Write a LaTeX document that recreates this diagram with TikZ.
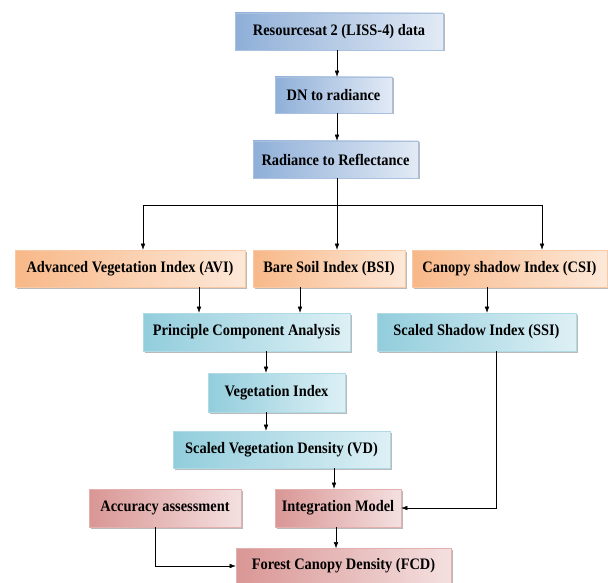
\documentclass[tikz,border=0pt]{standalone}
\usepackage{fontspec}
\setmainfont{Liberation Serif}[FakeStretch=0.9]
\usetikzlibrary{arrows.meta,shadows}

\definecolor{blueD}{HTML}{8FAFD8}
\definecolor{blueL}{HTML}{E2EAF5}
\definecolor{blueB}{HTML}{A9C0DF}
\definecolor{orangeD}{HTML}{F8B888}
\definecolor{orangeL}{HTML}{FDE8D8}
\definecolor{orangeB}{HTML}{F9C9A5}
\definecolor{cyanD}{HTML}{92CDDC}
\definecolor{cyanL}{HTML}{DDF0F5}
\definecolor{cyanB}{HTML}{B0DBE6}
\definecolor{redD}{HTML}{D99694}
\definecolor{redL}{HTML}{F4E0E0}
\definecolor{redB}{HTML}{E2B0AF}

\begin{document}
\begin{tikzpicture}[x=1pt, y=-1pt, >={Latex[length=6pt,width=4.5pt]},
  box/.style={rectangle, inner sep=0pt, line width=0.6pt,
    font=\fontsize{16}{19}\selectfont\bfseries,
    drop shadow={shadow xshift=1.5pt, shadow yshift=-1.5pt, fill=black!45, opacity=0.6}},
  bluebox/.style={box, draw=blueB, left color=blueD, right color=blueL},
  orangebox/.style={box, draw=orangeB, left color=orangeD, right color=orangeL},
  cyanbox/.style={box, draw=cyanB, left color=cyanD, right color=cyanL},
  redbox/.style={box, draw=redB, left color=redD, right color=redL}]
  \useasboundingbox (0,0) rectangle (608,583);

  % Pre-processing
  \node[bluebox, minimum width=208, minimum height=37] (res) at (339,31.5) {Resourcesat 2 (LISS-4) data};
  \node[bluebox, minimum width=117, minimum height=36] (dn) at (333.5,95) {DN to radiance};
  \node[bluebox, minimum width=165, minimum height=37] (rad) at (335.5,159.5) {Radiance to Reflectance};

  % Indices
  \node[orangebox, minimum width=230, minimum height=37] (avi) at (130,268.5) {Advanced Vegetation Index (AVI)};
  \node[orangebox, minimum width=152, minimum height=37] (bsi) at (329,268.5) {Bare Soil Index (BSI)};
  \node[orangebox, minimum width=195, minimum height=37] (csi) at (509.5,268.5) {Canopy shadow Index (CSI)};

  % Scaled indices
  \node[cyanbox, minimum width=207, minimum height=38] (pca) at (246.5,332) {Principle Component Analysis};
  \node[cyanbox, minimum width=199, minimum height=38] (ssi) at (476.5,332) {Scaled Shadow Index (SSI)};
  \node[cyanbox, minimum width=137, minimum height=39] (vi) at (276.5,392.5) {Vegetation Index};
  \node[cyanbox, minimum width=217, minimum height=37] (svd) at (281.5,449.5) {Scaled Vegetation Density (VD)};

  % Output
  \node[redbox, minimum width=152, minimum height=38] (acc) at (165,508) {Accuracy assessment};
  \node[redbox, minimum width=126, minimum height=38] (im) at (338,508) {Integration Model};
  \node[redbox, minimum width=215, minimum height=35] (fcd) at (343.5,566) {Forest Canopy Density (FCD)};

  % Branch points
  \coordinate (trunk) at (337,205);
  \coordinate (brL) at (143,205);
  \coordinate (brR) at (542,205);

  % Straight
  \draw[->] (res.south -| trunk) -- (dn.north -| trunk);
  \draw[->] (dn.south -| trunk) -- (rad.north -| trunk);
  \draw[->] (rad.south -| trunk) -- (bsi.north -| trunk);
  \draw[->] (trunk) -- (brL) -- (avi.north -| brL);
  \draw[->] (trunk) -- (brR) -- (csi.north -| brR);

  \draw[->] ([xshift=69pt]avi.south) -- ([xshift=69pt]avi.south |- pca.north);
  \draw[->] ([xshift=-29pt]bsi.south) -- ([xshift=-29pt]bsi.south |- pca.north);
  \draw[->] ([xshift=-22.5pt]csi.south) -- ([xshift=-22.5pt]csi.south |- ssi.north);
  \draw[->] ([xshift=19.5pt]pca.south) -- ([xshift=19.5pt]pca.south |- vi.north);
  \draw[->] ([xshift=-10.5pt]vi.south) -- ([xshift=-10.5pt]vi.south |- svd.north);
  \draw[->] ([xshift=52.5pt]svd.south) -- ([xshift=52.5pt]svd.south |- im.north);
  \draw[->] ([xshift=-2pt]im.south) -- ([xshift=-2pt]im.south |- fcd.north);

  % Elbows
  \draw[->] ([xshift=19.5pt]ssi.south) |- (im.east);
  \draw[->] ([xshift=-10pt]acc.south) |- (fcd.west);
\end{tikzpicture}
\end{document}
